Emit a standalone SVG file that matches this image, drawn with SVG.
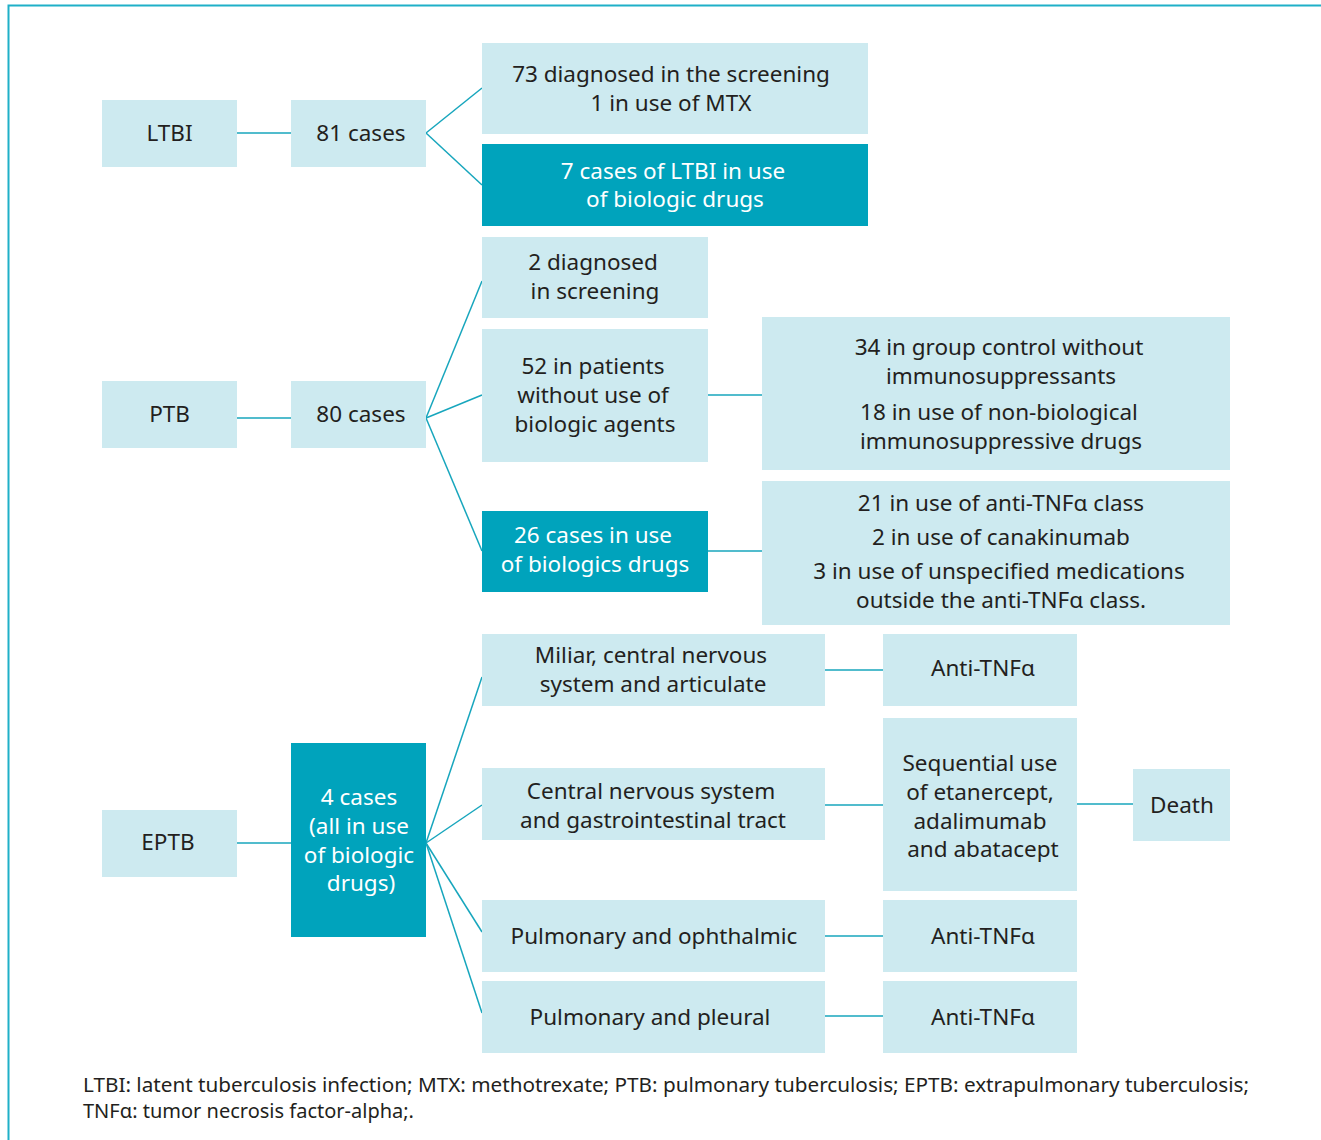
<svg xmlns="http://www.w3.org/2000/svg" width="1321" height="1140" viewBox="0 0 1321 1140">
<style>
.l{fill:#cdeaf0}
.d{fill:#00a3bc}
text{font-family:"Noto Sans","Open Sans","Liberation Sans",sans-serif;font-size:22.5px;fill:#231f20;text-anchor:middle}
.w{fill:#ffffff}
.fn{font-size:20px;text-anchor:start}
#connectors line{stroke:#17a6bd;stroke-width:1.5}
</style>
<rect width="1321" height="1140" fill="#ffffff"/>
<path d="M8.5,1140 V5.5 H1321" fill="none" stroke="#1fb0c8" stroke-width="2"/>
<g id="connectors">
<line x1="237" y1="133" x2="291" y2="133"/>
<line x1="426" y1="133" x2="482" y2="88"/>
<line x1="426" y1="133" x2="482" y2="185"/>
<line x1="237" y1="418" x2="291" y2="418"/>
<line x1="426" y1="418" x2="482" y2="281"/>
<line x1="426" y1="418" x2="482" y2="395"/>
<line x1="426" y1="418" x2="482" y2="551"/>
<line x1="708" y1="395" x2="762" y2="395"/>
<line x1="708" y1="551" x2="762" y2="551"/>
<line x1="237" y1="843" x2="291" y2="843"/>
<line x1="426" y1="843" x2="482" y2="677"/>
<line x1="426" y1="843" x2="482" y2="805"/>
<line x1="426" y1="843" x2="482" y2="932"/>
<line x1="426" y1="843" x2="482" y2="1013"/>
<line x1="825" y1="670" x2="883" y2="670"/>
<line x1="825" y1="805" x2="883" y2="805"/>
<line x1="1077" y1="804" x2="1133" y2="804"/>
<line x1="825" y1="936" x2="883" y2="936"/>
<line x1="825" y1="1016" x2="883" y2="1016"/>
</g>
<g id="ltbi"><rect class="l" x="102" y="100" width="135" height="67"/><text x="169.5" y="141">LTBI</text></g>
<g id="ltbi-cases"><rect class="l" x="291" y="100" width="135" height="67"/><text x="361" y="141">81 cases</text></g>
<g id="ltbi-screening"><rect class="l" x="482" y="43" width="386" height="91"/><text x="671" y="82">73 diagnosed in the screening</text><text x="671" y="111">1 in use of MTX</text></g>
<g id="ltbi-biologic"><rect class="d" x="482" y="144" width="386" height="82"/><text class="w" x="673" y="179">7 cases of LTBI in use</text><text class="w" x="675" y="207">of biologic drugs</text></g>
<g id="ptb"><rect class="l" x="102" y="381" width="135" height="67"/><text x="169.5" y="422">PTB</text></g>
<g id="ptb-cases"><rect class="l" x="291" y="381" width="135" height="67"/><text x="361" y="422">80 cases</text></g>
<g id="ptb-screening"><rect class="l" x="482" y="237" width="226" height="81"/><text x="593" y="270">2 diagnosed</text><text x="595" y="299">in screening</text></g>
<g id="ptb-nonbio"><rect class="l" x="482" y="329" width="226" height="133"/><text x="593" y="374">52 in patients</text><text x="593" y="403">without use of</text><text x="595" y="432">biologic agents</text></g>
<g id="ptb-groups"><rect class="l" x="762" y="317" width="468" height="153"/><text x="999" y="355">34 in group control without</text><text x="1001" y="384">immunosuppressants</text><text x="999" y="420">18 in use of non-biological</text><text x="1001" y="449">immunosuppressive drugs</text></g>
<g id="ptb-bio"><rect class="d" x="482" y="511" width="226" height="81"/><text class="w" x="593" y="543">26 cases in use</text><text class="w" x="595" y="572">of biologics drugs</text></g>
<g id="ptb-biodetail"><rect class="l" x="762" y="481" width="468" height="144"/><text x="1001" y="511">21 in use of anti-TNFα class</text><text x="1001" y="545">2 in use of canakinumab</text><text x="999" y="579">3 in use of unspecified medications</text><text x="1001" y="608">outside the anti-TNFα class.</text></g>
<g id="eptb"><rect class="l" x="102" y="810" width="135" height="67"/><text x="168" y="850">EPTB</text></g>
<g id="eptb-cases"><rect class="d" x="291" y="743" width="135" height="194"/><text class="w" x="359" y="805">4 cases</text><text class="w" x="359" y="834">(all in use</text><text class="w" x="359" y="863">of biologic</text><text class="w" x="361" y="891">drugs)</text></g>
<g id="miliar"><rect class="l" x="482" y="634" width="343" height="72"/><text x="651" y="663">Miliar, central nervous</text><text x="653" y="692">system and articulate</text></g>
<g id="anti1"><rect class="l" x="883" y="634" width="194" height="72"/><text x="983" y="676">Anti-TNFα</text></g>
<g id="cns"><rect class="l" x="482" y="768" width="343" height="72"/><text x="651" y="799">Central nervous system</text><text x="653" y="828">and gastrointestinal tract</text></g>
<g id="sequential"><rect class="l" x="883" y="718" width="194" height="173"/><text x="980" y="771">Sequential use</text><text x="980" y="800">of etanercept,</text><text x="980" y="829">adalimumab</text><text x="983" y="857">and abatacept</text></g>
<g id="death"><rect class="l" x="1133" y="769" width="97" height="72"/><text x="1182" y="813">Death</text></g>
<g id="ophthalmic"><rect class="l" x="482" y="900" width="343" height="72"/><text x="654" y="944">Pulmonary and ophthalmic</text></g>
<g id="anti2"><rect class="l" x="883" y="900" width="194" height="72"/><text x="983" y="944">Anti-TNFα</text></g>
<g id="pleural"><rect class="l" x="482" y="981" width="343" height="72"/><text x="650" y="1025">Pulmonary and pleural</text></g>
<g id="anti3"><rect class="l" x="883" y="981" width="194" height="72"/><text x="983" y="1025">Anti-TNFα</text></g>
<g id="footnote">
<text class="fn" x="83" y="1092" textLength="1166" lengthAdjust="spacingAndGlyphs">LTBI: latent tuberculosis infection; MTX: methotrexate; PTB: pulmonary tuberculosis; EPTB: extrapulmonary tuberculosis;</text>
<text class="fn" x="83" y="1118">TNFα: tumor necrosis factor-alpha;.</text>
</g>
</svg>
